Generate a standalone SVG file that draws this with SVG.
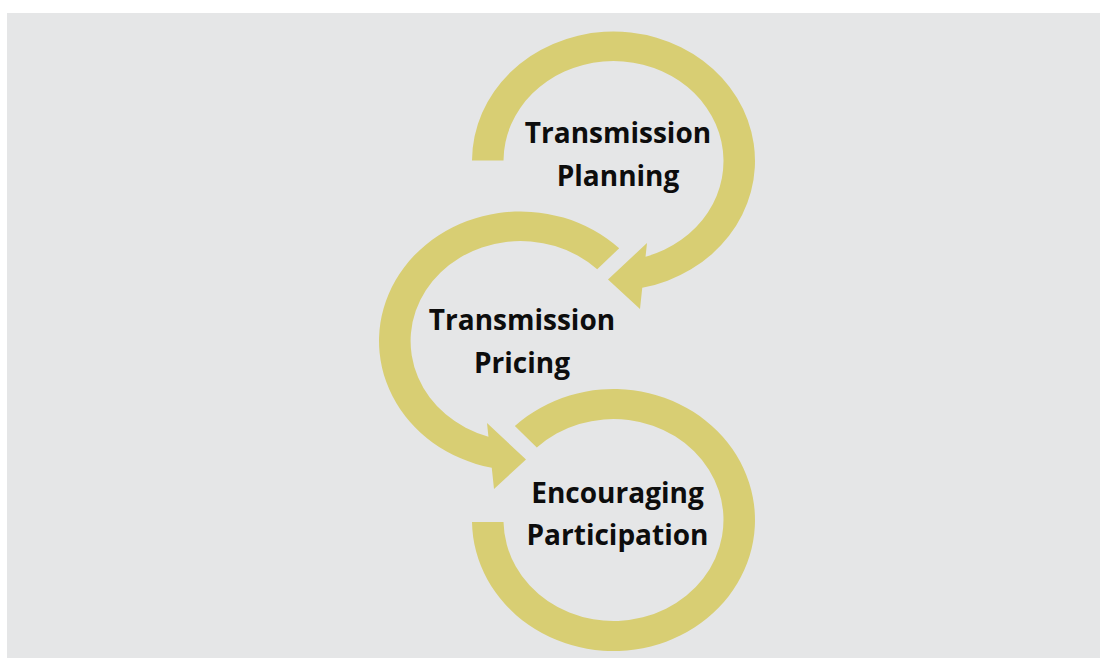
<svg xmlns="http://www.w3.org/2000/svg" width="1100" height="658" viewBox="0 0 1100 658">
<style>
.ring{fill:#d8ce73;stroke:none}
.lbl{font-family:"Open Sans","Liberation Sans",sans-serif;font-weight:700;font-size:28px;fill:#0d0d0d;text-anchor:middle}
</style>
<rect x="0" y="0" width="1100" height="658" fill="#ffffff"/>
<rect x="7" y="13" width="1093" height="645" fill="#e5e6e7"/>
<g id="node-planning">
<path class="ring" d="M 472 160.5 A 141.5 129.5 0 1 1 642.25 287.8 L 640 309 L 608 279.5 L 647 243 L 645.55 256.7 A 110 100 0 1 0 503.5 160.5 Z"/>
<text class="lbl" x="618" y="143">Transmission</text>
<text class="lbl" x="618" y="186">Planning</text>
</g>
<g id="node-pricing">
<path class="ring" d="M 619.2 248.2 A 141.5 129.5 0 1 0 491.75 467.8 L 494 489 L 526 459.5 L 487 423 L 488.45 436.7 A 110 100 0 1 1 597.2 269.3 Z"/>
<text class="lbl" x="522" y="330">Transmission</text>
<text class="lbl" x="522" y="373">Pricing</text>
</g>
<g id="node-participation">
<path class="ring" d="M 514.85 426.1 A 141.5 131 0 1 1 472 522 L 503.5 522 A 110 101 0 1 0 536.8 447.6 Z"/>
<text class="lbl" x="617.5" y="503">Encouraging</text>
<text class="lbl" x="617.5" y="545">Participation</text>
</g>
<g id="connectors"></g>
</svg>
